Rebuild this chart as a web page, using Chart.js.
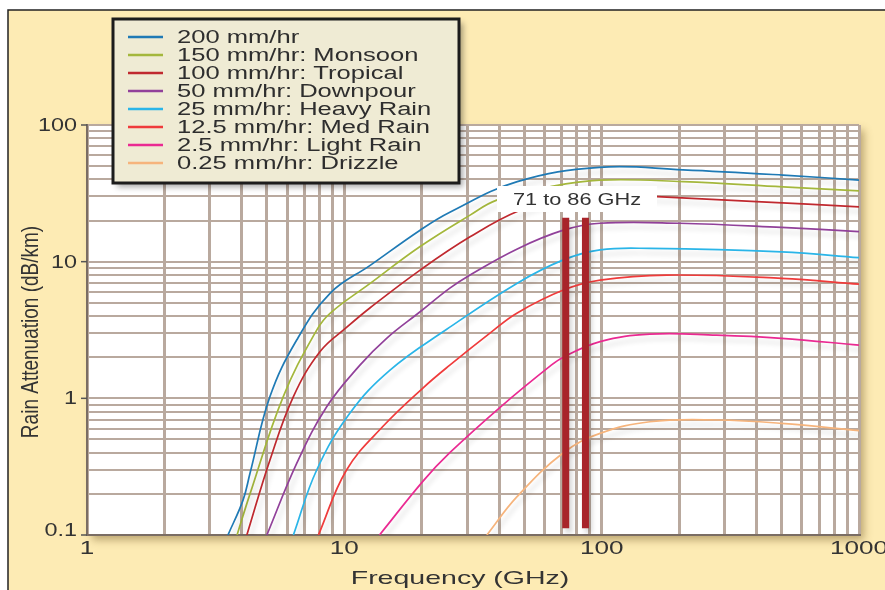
<!DOCTYPE html>
<html>
<head>
<meta charset="utf-8">
<title>Rain Attenuation vs Frequency</title>
<script src="https://cdn.jsdelivr.net/npm/chart.js@4.4.1/dist/chart.umd.min.js"></script>
<style>
  html, body { margin: 0; padding: 0; background: #fff; }
  canvas { display: block; }
</style>
</head>
<body>
<canvas id="rain" width="885" height="590"></canvas>
<script>
var seriesLabels = [
    '200 mm/hr',
    '150 mm/hr: Monsoon',
    '100 mm/hr: Tropical',
    '50 mm/hr: Downpour',
    '25 mm/hr: Heavy Rain',
    '12.5 mm/hr: Med Rain',
    '2.5 mm/hr: Light Rain',
    '0.25 mm/hr: Drizzle'
];
var seriesColors = [
    '#1f7ab5', // 200
    '#a4b73c', // 150
    '#c0292f', // 100
    '#91419a', // 50
    '#2ab5e8', // 25
    '#ef3b3b', // 12.5
    '#ea2a92', // 2.5
    '#f6b47c'  // 0.25
];

// frequency (GHz) / attenuation (dB/km)
var freq200 = [3.53, 4.04, 4.3, 5.14, 6.53, 8.8, 12.6, 19.7, 25.7, 47, 98, 207, 507, 1000];
var att200  = [0.1, 0.18, 0.283, 1.03, 2.67, 5.87, 9.4, 17, 23, 38.5, 49, 47, 43, 39.5];
var freq150 = [3.83, 4.3, 5.79, 7.81, 8.8, 12.6, 19.7, 30.8, 39.1, 63, 98.6, 207, 507, 1000];
var att150  = [0.1, 0.2, 1.03, 3.16, 4.19, 6.93, 12.9, 21.9, 28.2, 35.3, 39.5, 38.5, 35.3, 33];
var freq100 = [4.18, 5.14, 6.34, 8.05, 10.2, 12.6, 19.7, 30.8, 48.2, 71, 110, 164, 400, 1000];
var att100  = [0.1, 0.354, 1.03, 2.2, 3.3, 4.6, 8.68, 15.2, 23.8, 28.6, 31, 29.9, 27.5, 25.2];
var freq50  = [5.0, 6.53, 8.54, 11.5, 14.6, 19.7, 25.7, 30.8, 47, 71, 98.6, 200, 500, 1000];
var att50   = [0.1, 0.334, 0.868, 1.75, 2.75, 4.3, 6.4, 8.0, 12.4, 17, 19.1, 19.1, 17.8, 16.6];
var freq25  = [6.34, 7.81, 10.5, 15.05, 25, 46.8, 71, 98.6, 154, 500, 1000];
var att25   = [0.1, 0.299, 0.777, 1.61, 3.2, 6.93, 10.3, 12.2, 12.5, 11.8, 10.7];
var freq12  = [7.93, 10.2, 14.2, 20.3, 25.7, 36.8, 46.8, 71, 98.6, 179, 500, 1000];
var att12   = [0.1, 0.299, 0.63, 1.2, 1.75, 3.0, 4.2, 6.2, 7.33, 7.98, 7.55, 6.85];
var freq2   = [13.7, 20.3, 25.7, 40.3, 63, 71, 98.6, 154, 280, 500, 1000];
var att2    = [0.1, 0.25, 0.4, 0.86, 1.72, 2.0, 2.6, 2.95, 2.9, 2.75, 2.45];
var freq025 = [35.8, 46.8, 71, 98.6, 154, 280, 500, 1000];
var att025  = [0.1, 0.19, 0.4, 0.554, 0.674, 0.694, 0.656, 0.58];

// the 71 to 86 GHz band markers
var bandFreqs = [72.5, 86.5];
var bandRange = [0.112, 21];
var bandText = '71 to 86 GHz';

var xTickLabels = ['1', '10', '100', '1000'];
var yTickLabels = ['0.1', '1', '10', '100'];

var FONT = "'Liberation Sans', Arial, sans-serif";
var gridColor = '#b9a99e';

function pts(fs, vs) {
    return fs.map(function (f, i) { return { x: f, y: vs[i] }; });
}
var curves = [
    pts(freq200, att200), pts(freq150, att150), pts(freq100, att100), pts(freq50, att50),
    pts(freq25, att25), pts(freq12, att12), pts(freq2, att2), pts(freq025, att025)
];

var datasets = curves.map(function (d, i) {
    return {
        label: seriesLabels[i],
        data: d,
        borderColor: seriesColors[i],
        borderWidth: 1.7,
        pointRadius: 0,
        tension: 0.4,
        fill: false,
        order: 1
    };
});
bandFreqs.forEach(function (f) {
    datasets.push({
        label: 'band',
        data: [{ x: f, y: bandRange[0] }, { x: f, y: bandRange[1] }],
        borderColor: '#a8242a',
        borderWidth: 7,
        borderCapStyle: 'butt',
        pointRadius: 0,
        order: 0
    });
});

// every 1..9 x 10^n value between min and max
function logTicks(min, max) {
    var t = [];
    for (var p = min; p < max * 0.999; p *= 10) {
        for (var m = 1; m < 10; m++) t.push({ value: p * m });
    }
    t.push({ value: max });
    return t;
}

function stretchText(ctx, txt, x, y, sx, align) {
    ctx.save();
    ctx.translate(x, y);
    ctx.scale(sx, 1);
    ctx.textAlign = align;
    ctx.fillText(txt, 0, 0);
    ctx.restore();
}

var decor = {
    id: 'decor',
    beforeDraw: function (chart) {
        var ctx = chart.ctx, a = chart.chartArea;
        ctx.save();
        ctx.fillStyle = '#ffffff';
        ctx.fillRect(0, 0, chart.width, chart.height);
        ctx.fillStyle = '#fdebb4';
        ctx.fillRect(8, 10, chart.width - 8, chart.height - 10);
        ctx.strokeStyle = '#222';
        ctx.lineWidth = 1.5;
        ctx.beginPath();
        ctx.moveTo(8, chart.height);
        ctx.lineTo(8, 10);
        ctx.lineTo(chart.width, 10);
        ctx.stroke();
        // plot panel with its shadow
        ctx.shadowColor = 'rgba(110,85,35,0.45)';
        ctx.shadowBlur = 8;
        ctx.shadowOffsetX = 5;
        ctx.shadowOffsetY = 5;
        ctx.fillStyle = '#ffffff';
        ctx.fillRect(a.left, a.top, a.right - a.left, a.bottom - a.top);
        ctx.restore();
    },
    beforeDatasetsDraw: function (chart) {
        var ctx = chart.ctx;
        ctx.save();
        ctx.shadowColor = 'rgba(0,0,0,0.16)';
        ctx.shadowBlur = 5;
        ctx.shadowOffsetX = 3;
        ctx.shadowOffsetY = 5;
    },
    afterDatasetsDraw: function (chart) {
        chart.ctx.restore();
    },
    afterDraw: function (chart) {
        var ctx = chart.ctx, a = chart.chartArea;
        var xs = chart.scales.x, ys = chart.scales.y;
        ctx.save();
        ctx.fillStyle = '#333';
        ctx.textBaseline = 'middle';

        // y ticks
        ctx.font = '18px ' + FONT;
        ctx.strokeStyle = '#555';
        ctx.lineWidth = 1.5;
        yTickLabels.forEach(function (t) {
            var y = ys.getPixelForValue(parseFloat(t));
            ctx.beginPath();
            ctx.moveTo(a.left - 6, y);
            ctx.lineTo(a.left, y);
            ctx.stroke();
            stretchText(ctx, t, a.left - 10, y + (t === '0.1' ? -4 : 1), 1.3, 'right');
        });
        // x ticks
        xTickLabels.forEach(function (t) {
            var x = xs.getPixelForValue(parseFloat(t));
            stretchText(ctx, t, x, a.bottom + 14, 1.45, 'center');
        });

        // axis titles
        ctx.font = '19px ' + FONT;
        stretchText(ctx, 'Frequency (GHz)', 460, 579, 1.5, 'center');
        ctx.save();
        ctx.translate(31, 332);
        ctx.rotate(-Math.PI / 2);
        ctx.scale(1, 1.25);
        ctx.font = '19px ' + FONT;
        ctx.textAlign = 'center';
        ctx.fillText('Rain Attenuation (dB/km)', 0, 0);
        ctx.restore();

        // band label
        ctx.fillStyle = '#ffffff';
        ctx.fillRect(497, 186, 160, 26);
        ctx.fillStyle = '#333';
        ctx.font = '17px ' + FONT;
        stretchText(ctx, bandText, 577, 200, 1.28, 'center');

        // legend
        var bx = 113, by = 19, bw = 346, bh = 164;
        ctx.save();
        ctx.shadowColor = 'rgba(0,0,0,0.35)';
        ctx.shadowBlur = 6;
        ctx.shadowOffsetX = 4;
        ctx.shadowOffsetY = 4;
        ctx.fillStyle = '#efebd4';
        ctx.fillRect(bx, by, bw, bh);
        ctx.restore();
        ctx.strokeStyle = '#1c1c1c';
        ctx.lineWidth = 3;
        ctx.strokeRect(bx, by, bw, bh);
        ctx.font = '18px ' + FONT;
        seriesLabels.forEach(function (lab, i) {
            var y = 37 + i * 18;
            ctx.strokeStyle = seriesColors[i];
            ctx.lineWidth = 2.5;
            ctx.beginPath();
            ctx.moveTo(128, y);
            ctx.lineTo(163, y);
            ctx.stroke();
            ctx.fillStyle = '#2e2e2e';
            stretchText(ctx, lab, 177, y + 1, 1.42, 'left');
        });
        ctx.restore();
    }
};

var ctx = document.getElementById('rain').getContext('2d');
var rainChart = new Chart(ctx, {
    type: 'line',
    data: { datasets: datasets },
    options: {
        responsive: false,
        animation: false,
        layout: { padding: { left: 87, top: 125, right: 26, bottom: 55 } },
        scales: {
            x: {
                type: 'logarithmic',
                min: 1,
                max: 1000,
                afterBuildTicks: function (s) { s.ticks = logTicks(1, 1000); },
                afterFit: function (s) { s.height = 0; },
                ticks: { display: false },
                grid: { color: gridColor, lineWidth: 3, drawTicks: false },
                border: { display: true, color: '#7a6d64', width: 2 }
            },
            y: {
                type: 'logarithmic',
                min: 0.1,
                max: 100,
                afterBuildTicks: function (s) { s.ticks = logTicks(0.1, 100); },
                afterFit: function (s) { s.width = 0; },
                ticks: { display: false },
                grid: { color: gridColor, lineWidth: 2, drawTicks: false },
                border: { display: true, color: '#7a6d64', width: 2 }
            }
        },
        plugins: {
            legend: { display: false },
            tooltip: { enabled: false }
        }
    },
    plugins: [decor]
});
</script>
</body>
</html>
